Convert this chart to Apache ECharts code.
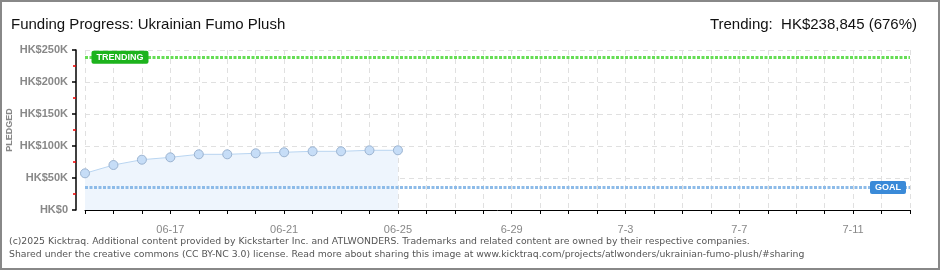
<!DOCTYPE html>
<html><head><meta charset="utf-8">
<script src="https://cdn.jsdelivr.net/npm/echarts@6/dist/echarts.min.js"></script>
<style>
html,body{margin:0;padding:0;background:#fff;}
#wrap{width:940px;height:270px;box-sizing:border-box;border:2px solid #888;position:relative;}
#chart{position:absolute;left:-2px;top:-2px;width:940px;height:270px;}
</style></head>
<body><div id="wrap"><div id="chart"></div></div>
<script>
const dates = ['06-14','06-15','06-16','06-17','06-18','06-19','06-20','06-21','06-22','06-23','06-24','06-25','06-26','06-27','06-28','6-29','6-30','7-1','7-2','7-3','7-4','7-5','7-6','7-7','7-8','7-9','7-10','7-11','7-12','7-13'];
const pledged = [57300, 70300, 78600, 82300, 87000, 87000, 88600, 90200, 91700, 91700, 93300, 93300];
const goal = 35332;
const trending = 238845;
const yTicks = [0, 50000, 100000, 150000, 200000, 250000];
const titleText = 'Funding Progress: Ukrainian Fumo Plush';
const trendText = 'Trending:  HK$238,845 (676%)';
const footer1 = '(c)2025 Kicktraq. Additional content provided by Kickstarter Inc. and ATLWONDERS. Trademarks and related content are owned by their respective companies.';
const footer2 = 'Shared under the creative commons (CC BY-NC 3.0) license. Read more about sharing this image at www.kicktraq.com/projects/atlwonders/ukrainian-fumo-plush/#sharing';

const chart = echarts.init(document.getElementById('chart'), null, {renderer:'canvas'});
const lblFont = '"Liberation Sans", Arial, sans-serif';
chart.setOption({
  animation:false,
  title:[
    {text:titleText, left:6, top:12, textStyle:{fontFamily:lblFont, fontSize:15, fontWeight:'normal', color:'#111'}},
    {text:trendText, right:18, top:12, textStyle:{fontFamily:lblFont, fontSize:15, fontWeight:'normal', color:'#111'}}
  ],
  graphic:[
    {type:'text', left:9, top:237, style:{text:footer1, font:'9.3px "DejaVu Sans", Verdana, sans-serif', fill:'#555'}},
    {type:'text', left:9, top:250, style:{text:footer2, font:'9.3px "DejaVu Sans", Verdana, sans-serif', fill:'#555'}}
  ],
  grid:{left:85, right:30, top:50, bottom:60, containLabel:false, outerBoundsMode:'none'},
  xAxis:{
    type:'category', data:dates, boundaryGap:false, offset:10,
    axisLine:{lineStyle:{color:'#000', width:1}},
    axisTick:{show:true, interval:0, length:4, lineStyle:{color:'#000'}},
    axisLabel:{interval:(i)=> (i-3)%4===0 && i>=3, color:'#888', fontFamily:lblFont, fontSize:11, margin:4},
    splitLine:{show:true, interval:0, lineStyle:{color:'#e0e0e0', type:[5,4]}}
  },
  yAxis:{
    type:'value', min:0, max:250000, interval:50000, offset:9,
    name:'PLEDGED', nameLocation:'middle', nameGap:62, nameMoveOverlap:false,
    nameTextStyle:{color:'#888', fontFamily:lblFont, fontSize:9, fontWeight:'bold'},
    axisLine:{show:true, lineStyle:{color:'#000', width:1.5}},
    axisTick:{show:true, length:4, lineStyle:{color:'#000', width:1.5}},
    minorTick:{show:true, splitNumber:2, length:3, lineStyle:{color:'#e00', width:1.5}},
    axisLabel:{color:'#888', fontFamily:lblFont, fontSize:11, fontWeight:'bold', margin:8,
      formatter:(v)=> v===0 ? 'HK$0' : 'HK$' + (v/1000) + 'K'},
    splitLine:{show:true, lineStyle:{color:'#e0e0e0', type:[5,4]}}
  },
  series:[{
    type:'line', data:pledged, symbol:'circle', symbolSize:9,
    lineStyle:{color:'#b9d5f1', width:1},
    itemStyle:{color:'#c6ddf7', borderColor:'#9bb3d0', borderWidth:1},
    areaStyle:{color:'#eef5fd', opacity:1},
    z:3,
    markLine:{
      silent:true, symbol:'none', label:{show:false},
      data:[
        {yAxis:trending, lineStyle:{color:'#66dd55', width:3, type:[3,1.5]}},
        {yAxis:goal, lineStyle:{color:'#8dbbe8', width:3, type:[3,1.5]}}
      ]
    },
    markPoint:{
      silent:true, symbol:'rect', symbolSize:0,
      data:[
        {coord:[0, trending], label:{show:true, position:'inside', offset:[35,0], formatter:'TRENDING',
          backgroundColor:'#1db31d', color:'#fff', fontFamily:lblFont, fontSize:9, fontWeight:'bold',
          padding:[2,5,1,5], borderRadius:2, lineHeight:10}},
        {coord:[dates.length-1, goal], label:{show:true, position:'inside', offset:[-22,0], formatter:'GOAL',
          backgroundColor:'#3a8ad8', color:'#fff', fontFamily:lblFont, fontSize:9, fontWeight:'bold',
          padding:[2,5,1,5], borderRadius:2, lineHeight:10}}
      ]
    }
  }]
});
</script></body></html>
